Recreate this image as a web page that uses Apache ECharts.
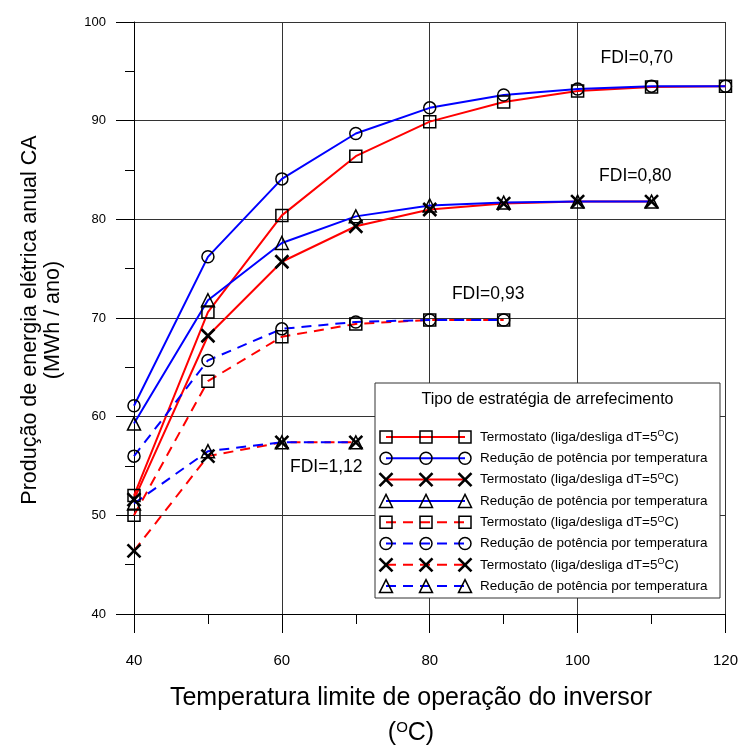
<!DOCTYPE html>
<html>
<head>
<meta charset="utf-8">
<script src="https://cdn.jsdelivr.net/npm/echarts@6/dist/echarts.min.js"></script>
<style>
  html, body { margin: 0; padding: 0; background: #ffffff; }
  #chart { width: 741px; height: 751px; }
</style>
</head>
<body>
<div id="chart"></div>
<script>
// Inverter limit temperature (ºC) on the x axis
const temps = [40, 50, 60, 70, 80, 90, 100, 110, 120];

// Annual AC energy (MWh / year) per FDI and cooling strategy
const termo070   = [52.0, 70.6, 80.4, 86.4, 89.9, 91.9, 93.0, 93.4, 93.5];
const reducao070 = [61.1, 76.2, 84.1, 88.7, 91.3, 92.6, 93.2, 93.5, 93.5];
const termo080   = [51.6, 68.2, 75.7, 79.3, 81.0, 81.6, 81.8, 81.8];
const reducao080 = [59.3, 71.8, 77.6, 80.3, 81.4, 81.7, 81.8, 81.8];
const termo093   = [50.0, 63.6, 68.1, 69.4, 69.8, 69.8];
const reducao093 = [56.0, 65.7, 68.9, 69.6, 69.8, 69.8];
const termo112   = [46.4, 56.0, 57.4, 57.4];
const reducao112 = [51.2, 56.5, 57.4, 57.4];

// Axis ranges and tick steps
const xRange = [40, 120], xStep = 20;
const yRange = [40, 100], yStep = 10;

// FDI annotations, placed in data coordinates
const fdiNotes = [
  { text: 'FDI=0,70', at: [108.0, 96.35] },
  { text: 'FDI=0,80', at: [107.8, 84.4] },
  { text: 'FDI=0,93', at: [87.9, 72.4] },
  { text: 'FDI=1,12', at: [66.0, 54.9] }
];

const legendTitle = 'Tipo de estratégia de arrefecimento';
const labelTermo = 'Termostato (liga/desliga dT=5{sup|O}C)';
const labelReducao = 'Redução de potência por temperatura';

const RED = '#ff0000';
const BLUE = '#0000ff';
const FONT = 'Liberation Sans, Arial, sans-serif';
const DASH = [10, 7];
const CROSS = 'path://M0,0L10,10M10,0L0,10';

const seriesDefs = [
  { name: 'Termostato FDI=0,70', values: termo070,   color: RED,  mark: 'square',   dashed: false, label: labelTermo },
  { name: 'Redução FDI=0,70',    values: reducao070, color: BLUE, mark: 'circle',   dashed: false, label: labelReducao },
  { name: 'Termostato FDI=0,80', values: termo080,   color: RED,  mark: 'cross',    dashed: false, label: labelTermo },
  { name: 'Redução FDI=0,80',    values: reducao080, color: BLUE, mark: 'triangle', dashed: false, label: labelReducao },
  { name: 'Termostato FDI=0,93', values: termo093,   color: RED,  mark: 'square',   dashed: true,  label: labelTermo },
  { name: 'Redução FDI=0,93',    values: reducao093, color: BLUE, mark: 'circle',   dashed: true,  label: labelReducao },
  { name: 'Termostato FDI=1,12', values: termo112,   color: RED,  mark: 'cross',    dashed: true,  label: labelTermo },
  { name: 'Redução FDI=1,12',    values: reducao112, color: BLUE, mark: 'triangle', dashed: true,  label: labelReducao }
];

const symbolFor = {
  square:   { symbol: 'rect',     size: 12, border: 1.5 },
  circle:   { symbol: 'circle',   size: 12, border: 1.5 },
  cross:    { symbol: CROSS,      size: 13, border: 2.6 },
  triangle: { symbol: 'triangle', size: 13, border: 1.5 }
};

const series = seriesDefs.map(def => {
  const s = symbolFor[def.mark];
  return {
    name: def.name,
    type: 'line',
    data: def.values.map((v, i) => [temps[i], v]),
    symbol: s.symbol,
    symbolSize: s.size,
    showAllSymbol: true,
    lineStyle: { color: def.color, width: 2, type: def.dashed ? DASH : 'solid' },
    itemStyle: { color: 'rgba(0,0,0,0)', borderColor: '#000', borderWidth: s.border },
    emphasis: { disabled: true },
    silent: true
  };
});

const chart = echarts.init(document.getElementById('chart'), null, { renderer: 'canvas' });

chart.setOption({
  animation: false,
  backgroundColor: '#ffffff',
  grid: { left: 134, right: 12, top: 22, bottom: 137, containLabel: false },
  xAxis: {
    type: 'value',
    min: xRange[0], max: xRange[1], interval: xStep,
    axisLine: { show: true, onZero: false, lineStyle: { color: '#000', width: 1 } },
    axisTick: { show: true, length: 19, lineStyle: { color: '#000', width: 1 } },
    minorTick: { show: true, splitNumber: 2, length: 10, lineStyle: { color: '#000', width: 1 } },
    splitLine: { show: true, lineStyle: { color: '#333', width: 1 } },
    axisLabel: { margin: 39, fontSize: 15, color: '#000', fontFamily: FONT, showMinLabel: true, showMaxLabel: true }
  },
  yAxis: {
    type: 'value',
    min: yRange[0], max: yRange[1], interval: yStep,
    axisLine: { show: true, onZero: false, lineStyle: { color: '#000', width: 1 } },
    axisTick: { show: true, length: 18, lineStyle: { color: '#000', width: 1 } },
    minorTick: { show: true, splitNumber: 2, length: 9, lineStyle: { color: '#000', width: 1 } },
    splitLine: { show: true, lineStyle: { color: '#333', width: 1 } },
    axisLabel: { margin: 28, fontSize: 13, color: '#000', fontFamily: FONT, showMinLabel: true, showMaxLabel: true }
  },
  series: series
});

// Legend panel and annotations
function legendMarker(mark, cx, cy) {
  const style = { fill: 'none', stroke: '#000', lineWidth: 1.5 };
  if (mark === 'square') {
    return { type: 'rect', shape: { x: cx - 6, y: cy - 6, width: 12, height: 12 }, style };
  }
  if (mark === 'circle') {
    return { type: 'circle', shape: { cx, cy, r: 6 }, style };
  }
  if (mark === 'triangle') {
    return { type: 'polygon', shape: { points: [[cx, cy - 6.5], [cx + 6.5, cy + 6.5], [cx - 6.5, cy + 6.5]] }, style };
  }
  return {
    type: 'group',
    children: [
      { type: 'line', shape: { x1: cx - 6.5, y1: cy - 6.5, x2: cx + 6.5, y2: cy + 6.5 }, style: { stroke: '#000', lineWidth: 2.6 } },
      { type: 'line', shape: { x1: cx - 6.5, y1: cy + 6.5, x2: cx + 6.5, y2: cy - 6.5 }, style: { stroke: '#000', lineWidth: 2.6 } }
    ]
  };
}

const box = { x: 375, y: 383, w: 345, h: 215 };
const rowTop = 437, rowStep = 21.3;
const markXs = [386, 426, 465];
const legendEls = [
  { type: 'rect', shape: { x: box.x, y: box.y, width: box.w, height: box.h }, style: { fill: '#fff', stroke: '#333', lineWidth: 1 } },
  { type: 'text', x: box.x + box.w / 2, y: 400, style: { text: legendTitle, fontSize: 16, fontFamily: FONT, fill: '#000', align: 'center', verticalAlign: 'middle' } }
];
seriesDefs.forEach((def, i) => {
  const cy = rowTop + i * rowStep;
  legendEls.push({
    type: 'line',
    shape: { x1: markXs[0], y1: cy, x2: markXs[2], y2: cy },
    style: { stroke: def.color, lineWidth: 2, lineDash: def.dashed ? DASH : null }
  });
  markXs.forEach(mx => legendEls.push(legendMarker(def.mark, mx, cy)));
  legendEls.push({
    type: 'text', x: 480, y: cy,
    style: {
      text: def.label, fontSize: 13.5, fontFamily: FONT, fill: '#000', align: 'left', verticalAlign: 'middle',
      rich: { sup: { fontSize: 9, fontFamily: FONT, fill: '#000', verticalAlign: 'top', padding: [0, 0, 6, 0] } }
    }
  });
});

const noteEls = fdiNotes.map(n => {
  const p = chart.convertToPixel({ gridIndex: 0 }, n.at);
  return { type: 'text', x: p[0], y: p[1], style: { text: n.text, fontSize: 17.5, fontFamily: FONT, fill: '#000', align: 'center', verticalAlign: 'middle' } };
});

const titleEls = [
  { type: 'text', x: 30, y: 320, rotation: Math.PI / 2,
    style: { text: 'Produção de energia elétrica anual CA', fontSize: 21.5, fontFamily: FONT, fill: '#000', align: 'center', verticalAlign: 'middle' } },
  { type: 'text', x: 53, y: 320, rotation: Math.PI / 2,
    style: { text: '(MWh / ano)', fontSize: 21.5, fontFamily: FONT, fill: '#000', align: 'center', verticalAlign: 'middle' } },
  { type: 'text', x: 411, y: 698,
    style: { text: 'Temperatura limite de operação do inversor', fontSize: 25, fontFamily: FONT, fill: '#000', align: 'center', verticalAlign: 'middle' } },
  { type: 'text', x: 411, y: 733,
    style: { text: '({sup|O}C)', fontSize: 25, fontFamily: FONT, fill: '#000', align: 'center', verticalAlign: 'middle',
      rich: { sup: { fontSize: 15, fontFamily: FONT, fill: '#000', verticalAlign: 'top', padding: [0, 0, 10, 0] } } } }
];

chart.setOption({
  graphic: [
    { type: 'group', silent: true, children: noteEls },
    { type: 'group', silent: true, children: legendEls },
    { type: 'group', silent: true, children: titleEls }
  ]
});
</script>
</body>
</html>
